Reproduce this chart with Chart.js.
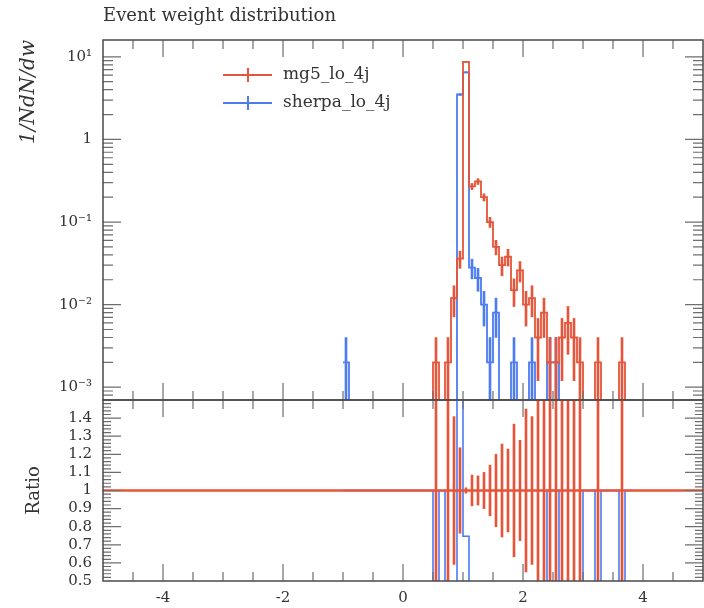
<!DOCTYPE html>
<html><head><meta charset="utf-8">
<script src="https://cdn.jsdelivr.net/npm/chart.js@4"></script>
<style>
html,body{margin:0;padding:0;background:#fff;}
#wrap{position:relative;width:704px;height:608px;overflow:hidden;background:#fff;}
#top{position:absolute;left:0;top:0;}
#bot{position:absolute;left:0;top:399px;}
</style></head><body>
<div id="wrap"><canvas id="top" width="704" height="402"></canvas><canvas id="bot" width="704" height="209"></canvas></div>
<script>
// ---------------- data ----------------
const binWidth = 0.1;
const binLow = [
  -1.0,-0.9,-0.8,-0.7,-0.6,-0.5,-0.4,-0.3,-0.2,-0.1,
   0.0, 0.1, 0.2, 0.3, 0.4, 0.5, 0.6, 0.7, 0.8, 0.9,
   1.0, 1.1, 1.2, 1.3, 1.4, 1.5, 1.6, 1.7, 1.8, 1.9,
   2.0, 2.1, 2.2, 2.3, 2.4, 2.5, 2.6, 2.7, 2.8, 2.9,
   3.0, 3.1, 3.2, 3.3, 3.4, 3.5, 3.6, 3.7
];
const seriesNames = ['mg5_lo_4j', 'sherpa_lo_4j'];
const mg5 = [
  0,0,0,0,0,0,0,0,0,0,
  0,0,0,0,0,0.002,0,0.002,0.012,0.036,
  8.7,0.27,0.31,0.20,0.10,0.050,0.030,0.038,0.015,0.026,
  0.010,0.012,0.004,0.008,0.002,0.002,0.004,0.006,0.004,0.002,
  0,0,0.002,0,0,0,0.002,0
];
const mg5Err = [
  0,0,0,0,0,0,0,0,0,0,
  0,0,0,0,0,0.002,0,0.002,0.0049,0.0085,
  0.13,0.023,0.025,0.020,0.014,0.010,0.0077,0.0087,0.0055,0.0072,
  0.0045,0.0049,0.0028,0.0040,0.002,0.002,0.0028,0.0035,0.0028,0.002,
  0,0,0.002,0,0,0,0.002,0
];
const sherpa = [
  0.002,0,0,0,0,0,0,0,0,0,
  0,0,0,0,0,0,0,0,0,3.5,
  6.5,0.028,0.021,0.010,0.002,0.008,0,0,0.002,0,
  0,0.002,0,0,0.002,0.002,0,0,0,0,
  0,0,0,0,0,0,0,0
];
const sherpaErr = [
  0.002,0,0,0,0,0,0,0,0,0,
  0,0,0,0,0,0,0,0,0,0.084,
  0.114,0.0075,0.0065,0.0045,0.002,0.004,0,0,0.002,0,
  0,0.002,0,0,0.002,0.002,0,0,0,0,
  0,0,0,0,0,0,0,0
];
const xTicks = [-4, -2, 0, 2, 4];
const xTickLabels = ['-4', '-2', '0', '2', '4'];
const logTicks = [0.001, 0.01, 0.1, 1, 10];
const logTickLabels = ['10\u207B\u00B3', '10\u207B\u00B2', '10\u207B\u00B9', '1', '10\u00B9'];
const ratioTicks = [0.5, 0.6, 0.7, 0.8, 0.9, 1.0, 1.1, 1.2, 1.3, 1.4];
const ratioTickLabels = ['0.5','0.6','0.7','0.8','0.9','1','1.1','1.2','1.3','1.4'];

// ---------------- styling ----------------
const xMin = -5, xMax = 5;
const yMinTop = 7e-4, yMaxTop = 16;
const rMin = 0.5, rMax = 1.5;
const RED = '#e4553a', BLUE = '#4d7cf0';
const FONT = "'DejaVu Serif', 'Liberation Serif', serif";
const TEXT = '#333333', FRAME = '#4a4a4a', TICK = '#6e6e6e';
const FLOOR = 1e-7;
Chart.defaults.font.family = FONT;
Chart.defaults.color = TEXT;

function stepPoints(vals) {
  const pts = binLow.map((x, i) => ({x: x, y: vals[i] > 0 ? vals[i] : FLOOR}));
  pts.push({x: binLow[binLow.length - 1] + binWidth, y: pts[pts.length - 1].y});
  return pts;
}
function errPoints(vals, errs) {
  const out = [];
  binLow.forEach((x, i) => {
    if (vals[i] > 0) out.push({x: x + binWidth / 2, y: [Math.max(vals[i] - errs[i], FLOOR), vals[i] + errs[i]]});
  });
  return out;
}
const ratioVals = binLow.map((x, i) => mg5[i] > 0 ? sherpa[i] / mg5[i] : 1);
function ratioStep() {
  const pts = binLow.map((x, i) => ({x: x, y: ratioVals[i]}));
  pts.push({x: binLow[binLow.length - 1] + binWidth, y: ratioVals[ratioVals.length - 1]});
  return pts;
}
function ratioErr() {
  const out = [];
  binLow.forEach((x, i) => {
    if (mg5[i] > 0) { const r = mg5Err[i] / mg5[i]; out.push({x: x + binWidth / 2, y: [1 - r, 1 + r]}); }
  });
  return out;
}

// ---------------- decoration plugins ----------------
function drawXTicks(chart, edges) {
  const {ctx, scales: {x}} = chart;
  const n = Math.round((xMax - xMin) / 0.5);
  for (let k = 1; k < n; k++) {
    const v = xMin + k * 0.5;
    const px = x.getPixelForValue(v);
    const major = Math.abs(v / 2 - Math.round(v / 2)) < 1e-6;
    const len = major ? 17 : 9;
    edges.forEach(([y, dir]) => { ctx.moveTo(px, y); ctx.lineTo(px, y + dir * len); });
  }
}
function drawYTicks(chart, list) {
  const {ctx, chartArea: a, scales: {y}} = chart;
  list.forEach(([v, len]) => {
    const py = y.getPixelForValue(v);
    if (py < a.top + 0.5 || py > a.bottom - 0.5) return;
    ctx.moveTo(a.left, py); ctx.lineTo(a.left + len, py);
    ctx.moveTo(a.right, py); ctx.lineTo(a.right - len, py);
  });
}
const topDeco = {
  id: 'topDeco',
  afterDatasetsDraw(chart) {
    const {ctx, chartArea: a} = chart;
    ctx.save();
    ctx.beginPath();
    ctx.strokeStyle = TICK; ctx.lineWidth = 1.2;
    drawXTicks(chart, [[a.top, 1], [a.bottom, -1]]);
    const list = [];
    for (let e = -4; e <= 1; e++) for (let m = 1; m <= 9; m++) list.push([m * Math.pow(10, e), m === 1 ? 18 : 10]);
    drawYTicks(chart, list);
    ctx.stroke();
    ctx.strokeStyle = FRAME; ctx.lineWidth = 1.5;
    ctx.strokeRect(a.left, a.top, a.width, a.height);
    // legend
    const colors = [RED, BLUE];
    ctx.font = "17px " + FONT;
    ctx.textBaseline = 'middle';
    ctx.fillStyle = TEXT;
    seriesNames.forEach((name, i) => {
      const yy = a.top + 35 + i * 28;
      const x0 = a.left + 120;
      ctx.beginPath();
      ctx.strokeStyle = colors[i]; ctx.lineWidth = 2;
      ctx.moveTo(x0, yy); ctx.lineTo(x0 + 49, yy);
      ctx.moveTo(x0 + 25, yy - 7); ctx.lineTo(x0 + 25, yy + 7);
      ctx.stroke();
      ctx.fillText(name, x0 + 60, yy);
    });
    ctx.restore();
  }
};
const botDeco = {
  id: 'botDeco',
  afterDatasetsDraw(chart) {
    const {ctx, chartArea: a} = chart;
    ctx.save();
    ctx.beginPath();
    ctx.strokeStyle = TICK; ctx.lineWidth = 1.2;
    drawXTicks(chart, [[a.top, 1], [a.bottom, -1]]);
    const list = [];
    for (let k = 0; k <= 50; k++) list.push([rMin + k * 0.02, k % 5 === 0 ? 18 : 8]);
    drawYTicks(chart, list);
    ctx.stroke();
    ctx.strokeStyle = FRAME; ctx.lineWidth = 1.5;
    ctx.strokeRect(a.left, a.top, a.width, a.height);
    ctx.restore();
  }
};

const noGrid = {display: false, drawTicks: false};
const noBorder = {display: false};
const tickFont = {family: FONT, size: 15};
function fixWidth(s) { s.width = 103; s.paddingTop = 0; s.paddingBottom = 0; }
function fixHeight(s) { s.height = 27; s.paddingLeft = 0; s.paddingRight = 0; }

// ---------------- main panel ----------------
new Chart(document.getElementById('top'), {
  type: 'line',
  data: {datasets: [
    {type: 'bar', label: seriesNames[0] + ' err', data: errPoints(mg5, mg5Err), backgroundColor: RED, barThickness: 2, grouped: false, order: 0},
    {type: 'line', label: seriesNames[0], data: stepPoints(mg5), borderColor: RED, borderWidth: 1.8, pointRadius: 0, stepped: true, order: 1},
    {type: 'bar', label: seriesNames[1] + ' err', data: errPoints(sherpa, sherpaErr), backgroundColor: BLUE, barThickness: 2, grouped: false, order: 2},
    {type: 'line', label: seriesNames[1], data: stepPoints(sherpa), borderColor: BLUE, borderWidth: 1.8, pointRadius: 0, stepped: true, order: 3}
  ]},
  options: {
    responsive: false, animation: false, devicePixelRatio: 1,
    layout: {padding: {left: 0, right: 1, top: 0, bottom: 2}},
    plugins: {
      legend: {display: false}, tooltip: {enabled: false},
      title: {display: true, text: 'Event weight distribution', align: 'start', fullSize: false, color: TEXT,
        font: {family: FONT, size: 18, weight: 'normal', lineHeight: '20px'}, padding: {top: 6, bottom: 14}}
    },
    scales: {
      x: {type: 'linear', min: xMin, max: xMax, offset: false, display: false},
      y: {type: 'logarithmic', min: yMinTop, max: yMaxTop, offset: false, beginAtZero: false,
        grid: noGrid, border: noBorder,
        afterBuildTicks: s => { s.ticks = logTicks.map(v => ({value: v})); },
        afterFit: fixWidth,
        ticks: {autoSkip: false, padding: 11, font: tickFont, color: TEXT, callback: (v, i) => logTickLabels[i]},
        title: {display: true, text: '1/NdN/dw', align: 'end', color: TEXT,
          font: {family: FONT, size: 20, style: 'italic'}, padding: {top: 17}}
      }
    }
  },
  plugins: [topDeco]
});

// ---------------- ratio panel ----------------
new Chart(document.getElementById('bot'), {
  type: 'line',
  data: {datasets: [
    {type: 'bar', label: 'ratio err', data: ratioErr(), backgroundColor: RED, barThickness: 2, grouped: false, order: 0},
    {type: 'line', label: 'reference', data: [{x: xMin, y: 1}, {x: xMax, y: 1}], borderColor: RED, borderWidth: 2.4, pointRadius: 0, order: 1},
    {type: 'line', label: 'ratio', data: ratioStep(), borderColor: BLUE, borderWidth: 1.6, pointRadius: 0, stepped: true, order: 2}
  ]},
  options: {
    responsive: false, animation: false, devicePixelRatio: 1,
    layout: {padding: {left: 0, right: 1, top: 1, bottom: 0}},
    plugins: {legend: {display: false}, tooltip: {enabled: false}},
    scales: {
      x: {type: 'linear', min: xMin, max: xMax, offset: false, grid: noGrid, border: noBorder,
        afterBuildTicks: s => { s.ticks = xTicks.map(v => ({value: v})); },
        afterFit: fixHeight,
        ticks: {autoSkip: false, maxRotation: 0, padding: 8, font: tickFont, color: TEXT, callback: (v, i) => xTickLabels[i]}
      },
      y: {type: 'linear', min: rMin, max: rMax, offset: false, beginAtZero: false, grid: noGrid, border: noBorder,
        afterBuildTicks: s => { s.ticks = ratioTicks.map(v => ({value: v})); },
        afterFit: fixWidth,
        ticks: {autoSkip: false, padding: 11, font: tickFont, color: TEXT, callback: (v, i) => ratioTickLabels[i]},
        title: {display: true, text: 'Ratio', align: 'center', color: TEXT,
          font: {family: FONT, size: 18}, padding: {top: 24}}
      }
    }
  },
  plugins: [botDeco]
});
</script>
</body></html>
